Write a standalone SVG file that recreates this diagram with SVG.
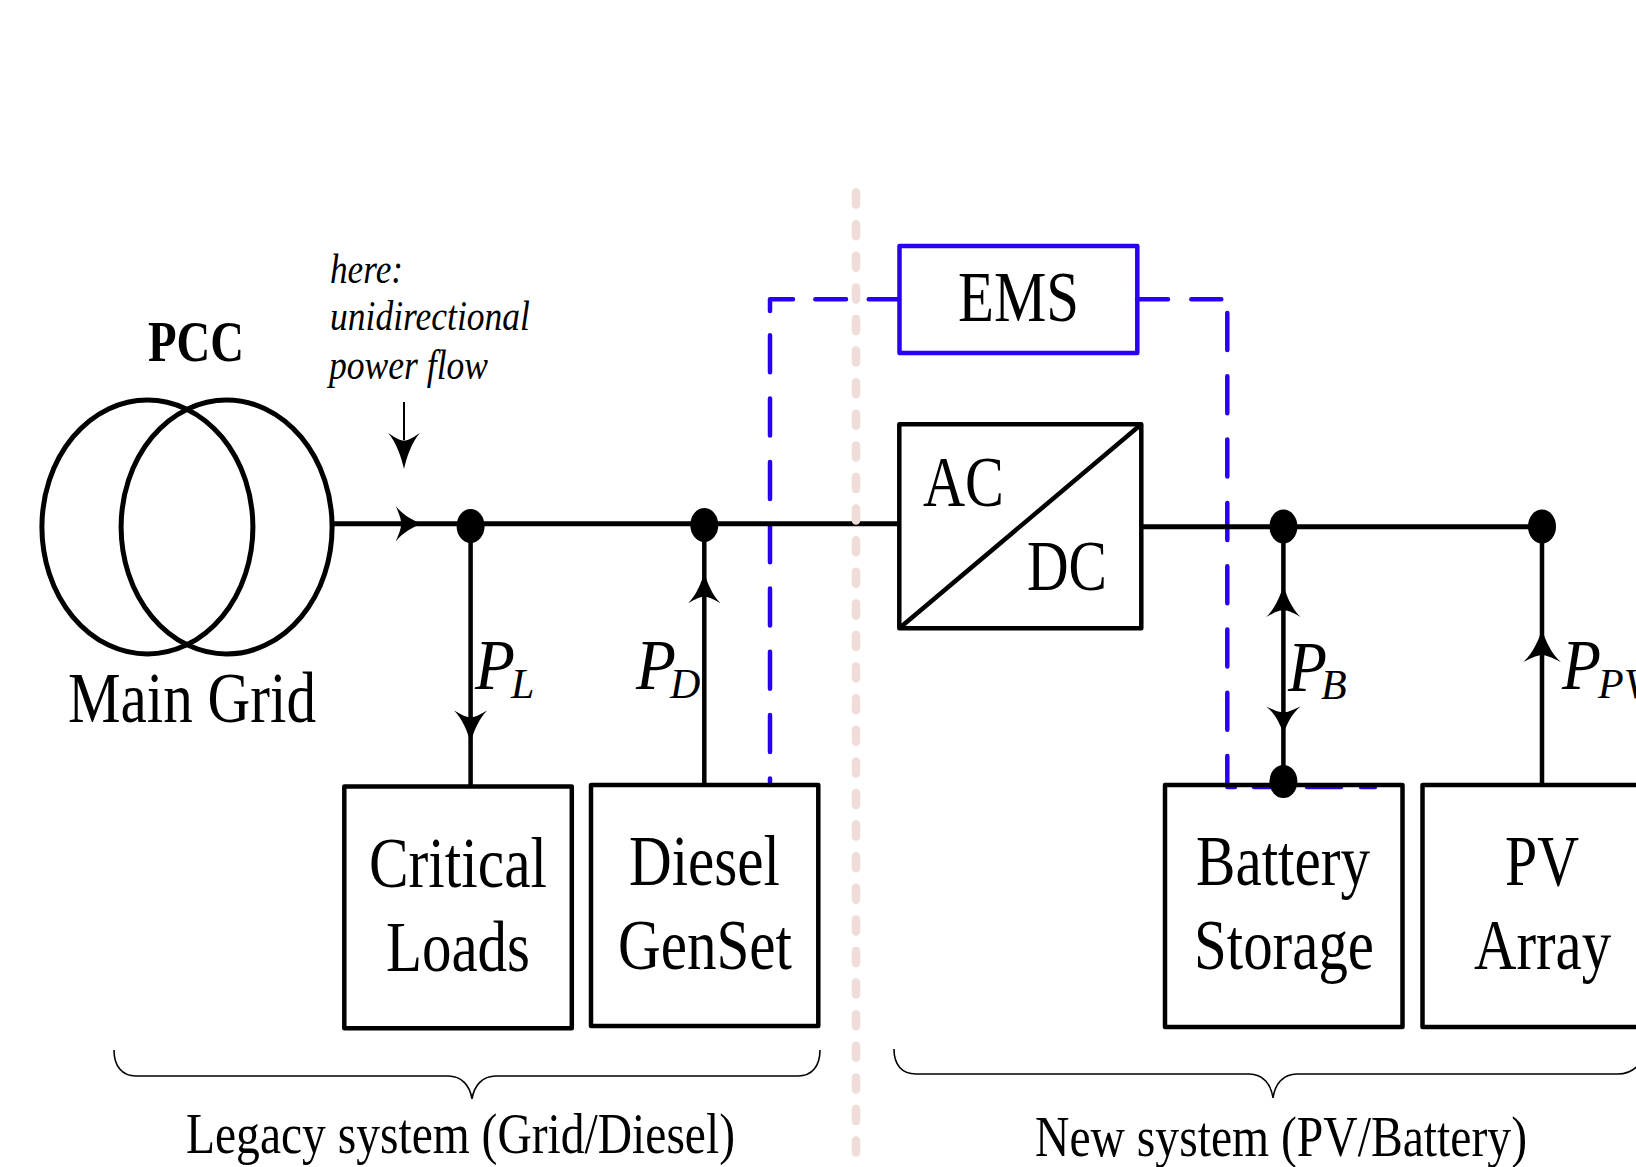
<svg xmlns="http://www.w3.org/2000/svg" xmlns:xlink="http://www.w3.org/1999/xlink" width="1636" height="1167" viewBox="0 0 1636 1167">
<style>
text{font-family:"Liberation Serif","Times New Roman",serif;fill:#000}
.l{font-size:72px}
.m{font-size:56px}
.n{font-size:42px;font-style:italic}
.p{font-size:72px;font-style:italic}
.s{font-size:42px;font-style:italic}
.b{fill:none;stroke:#000;stroke-width:4.5;stroke-linejoin:round}
.w{fill:none;stroke:#000;stroke-width:5}
.v{fill:none;stroke:#000;stroke-width:4.5}
.t{fill:none;stroke:#000;stroke-width:2}
.e{fill:none;stroke:#000;stroke-width:5}
.d{fill:#000;stroke:none}
.q{fill:none;stroke:#2a00f0;stroke-width:4.5;stroke-linecap:round;stroke-linejoin:round}
.br{fill:none;stroke:#000;stroke-width:1.6}
</style>
<defs>
<path id="a" d="M0 0C-8 -3 -18 -9 -24 -18C-20 -8 -19 -4 -19 0C-19 4 -20 8 -24 18C-18 9 -8 3 0 0Z" fill="#000"/>
</defs>
<rect width="1636" height="1167" fill="#fff"/>
<g id="connectors">
<path class="q" d="M770 311V299.300H793M815.300 299.300H846M868.700 299.300H899M770 335.300V372.300M770 398.600V435.600M770 461.900V498.900M770 525.200V562.200M770 588.500V625.500M770 651.800V688.800M770 715.100V752.100M770 778.400V785"/>
<path class="q" d="M1137 299.300H1168M1191.300 299.300H1221.300M1227.300 313V350M1227.300 376.300V413.300M1227.300 439.600V476.600M1227.300 502.900V539.900M1227.300 566.200V603.200M1227.300 629.500V666.500M1227.300 692.800V729.800M1227.300 756.100V787H1235M1254 787H1288M1307 787H1341M1361 787H1375"/>
<path class="w" d="M333 523.700H900"/>
<path class="w" d="M1141 526.700H1542"/>
<path class="v" d="M470.600 526V786"/>
<path class="v" d="M704.300 525V785"/>
<path class="v" d="M1283.400 526V782"/>
<path class="v" d="M1542 526V785"/>
<path class="t" d="M404 402V440"/>
<use xlink:href="#a" href="#a" transform="translate(422 523.700) scale(1.1 1)"/>
<use xlink:href="#a" href="#a" transform="translate(404 469) rotate(90) scale(1.5 .88)"/>
<use xlink:href="#a" href="#a" transform="translate(470.600 743) rotate(90) scale(1.35 .92)"/>
<use xlink:href="#a" href="#a" transform="translate(704.300 572) rotate(-90) scale(1.3 .9)"/>
<use xlink:href="#a" href="#a" transform="translate(1283.400 585) rotate(-90) scale(1.33 .95)"/>
<use xlink:href="#a" href="#a" transform="translate(1283.400 734) rotate(90) scale(1.15 .95)"/>
<use xlink:href="#a" href="#a" transform="translate(1542 629) rotate(-90) scale(1.38 1.05)"/>
<path class="br" d="M114 1050C114 1066 122 1076 136 1076H448C462 1076 470 1086 472 1099C474 1086 482 1076 496 1076H798C812 1076 820 1066 820 1050"/>
<path class="br" d="M894 1049C894 1065 902 1074 916 1074H1249C1263 1074 1271 1084 1273 1098C1275 1084 1283 1074 1297 1074H1618C1628 1074 1636 1070 1642 1060"/>
<path d="M856 192.600V1154" fill="none" stroke="#f0dcd8" stroke-width="8.500" stroke-linecap="round" stroke-dasharray="12 19.600"/>
</g>
<g id="main-grid">
<ellipse class="e" cx="147.400" cy="527" rx="105.500" ry="127"/>
<ellipse class="e" cx="226.600" cy="527" rx="105.500" ry="127"/>
<text class="l" x="68" y="722" textLength="248" lengthAdjust="spacingAndGlyphs">Main Grid</text>
</g>
<g id="pcc"><text class="m" x="148" y="361" font-weight="bold" textLength="96" lengthAdjust="spacingAndGlyphs">PCC</text></g>
<g id="note">
<text class="n" x="330" y="283" textLength="73" lengthAdjust="spacingAndGlyphs">here:</text>
<text class="n" x="330" y="330" textLength="200" lengthAdjust="spacingAndGlyphs">unidirectional</text>
<text class="n" x="329" y="379" textLength="159" lengthAdjust="spacingAndGlyphs">power flow</text>
</g>
<g id="node-pcc-bus"><ellipse class="d" cx="470.600" cy="526" rx="14" ry="17"/></g>
<g id="node-diesel-bus"><ellipse class="d" cx="704.300" cy="525" rx="14" ry="17"/></g>
<g id="node-battery-bus"><ellipse class="d" cx="1283.400" cy="526.500" rx="14" ry="17"/></g>
<g id="node-pv-bus"><ellipse class="d" cx="1542" cy="526.500" rx="14" ry="17"/></g>
<g id="critical-loads">
<rect class="b" x="344.300" y="786.500" width="227.500" height="241.800"/>
<text class="l" x="369" y="886.500" textLength="178" lengthAdjust="spacingAndGlyphs">Critical</text>
<text class="l" x="386" y="971" textLength="144" lengthAdjust="spacingAndGlyphs">Loads</text>
</g>
<g id="diesel-genset">
<rect class="b" x="591" y="785" width="227.300" height="241"/>
<text class="l" x="629" y="885" textLength="151" lengthAdjust="spacingAndGlyphs">Diesel</text>
<text class="l" x="618" y="969" textLength="174" lengthAdjust="spacingAndGlyphs">GenSet</text>
</g>
<g id="battery-storage">
<rect class="b" x="1165" y="785" width="237.500" height="242"/>
<text class="l" x="1196" y="885" textLength="174" lengthAdjust="spacingAndGlyphs">Battery</text>
<text class="l" x="1194" y="969" textLength="180" lengthAdjust="spacingAndGlyphs">Storage</text>
</g>
<g id="node-battery-top"><ellipse class="d" cx="1283.400" cy="781.500" rx="14" ry="16.500"/></g>
<g id="pv-array">
<rect class="b" x="1422.500" y="785" width="240" height="242"/>
<text class="l" x="1505" y="885" textLength="74" lengthAdjust="spacingAndGlyphs">PV</text>
<text class="l" x="1474" y="969" textLength="137" lengthAdjust="spacingAndGlyphs">Array</text>
</g>
<g id="ems">
<rect x="899.500" y="246" width="237.800" height="107" fill="none" stroke="#2a00f0" stroke-width="4.500" stroke-linejoin="round"/>
<text class="l" x="958" y="320.700" textLength="121" lengthAdjust="spacingAndGlyphs">EMS</text>
</g>
<g id="ac-dc">
<rect class="b" x="899.300" y="424.300" width="242" height="204"/>
<path class="v" d="M899.300 628.300L1141.300 424.300"/>
<text class="l" x="923" y="505.500" textLength="81" lengthAdjust="spacingAndGlyphs">AC</text>
<text class="l" x="1027" y="590" textLength="80" lengthAdjust="spacingAndGlyphs">DC</text>
</g>
<g id="labels">
<text class="p" x="475" y="689" textLength="40" lengthAdjust="spacingAndGlyphs">P</text><text class="s" x="511" y="698">L</text>
<text class="p" x="636" y="689" textLength="40" lengthAdjust="spacingAndGlyphs">P</text><text class="s" x="670" y="698">D</text>
<text class="p" x="1288" y="691" textLength="39" lengthAdjust="spacingAndGlyphs">P</text><text class="s" x="1321" y="699">B</text>
<text class="p" x="1562" y="689" textLength="39" lengthAdjust="spacingAndGlyphs">P</text><text class="s" x="1598" y="698">PV</text>
<text class="m" x="186" y="1153" textLength="549" lengthAdjust="spacingAndGlyphs">Legacy system (Grid/Diesel)</text>
<text class="m" x="1035" y="1156" textLength="492" lengthAdjust="spacingAndGlyphs">New system (PV/Battery)</text>
</g>
</svg>
